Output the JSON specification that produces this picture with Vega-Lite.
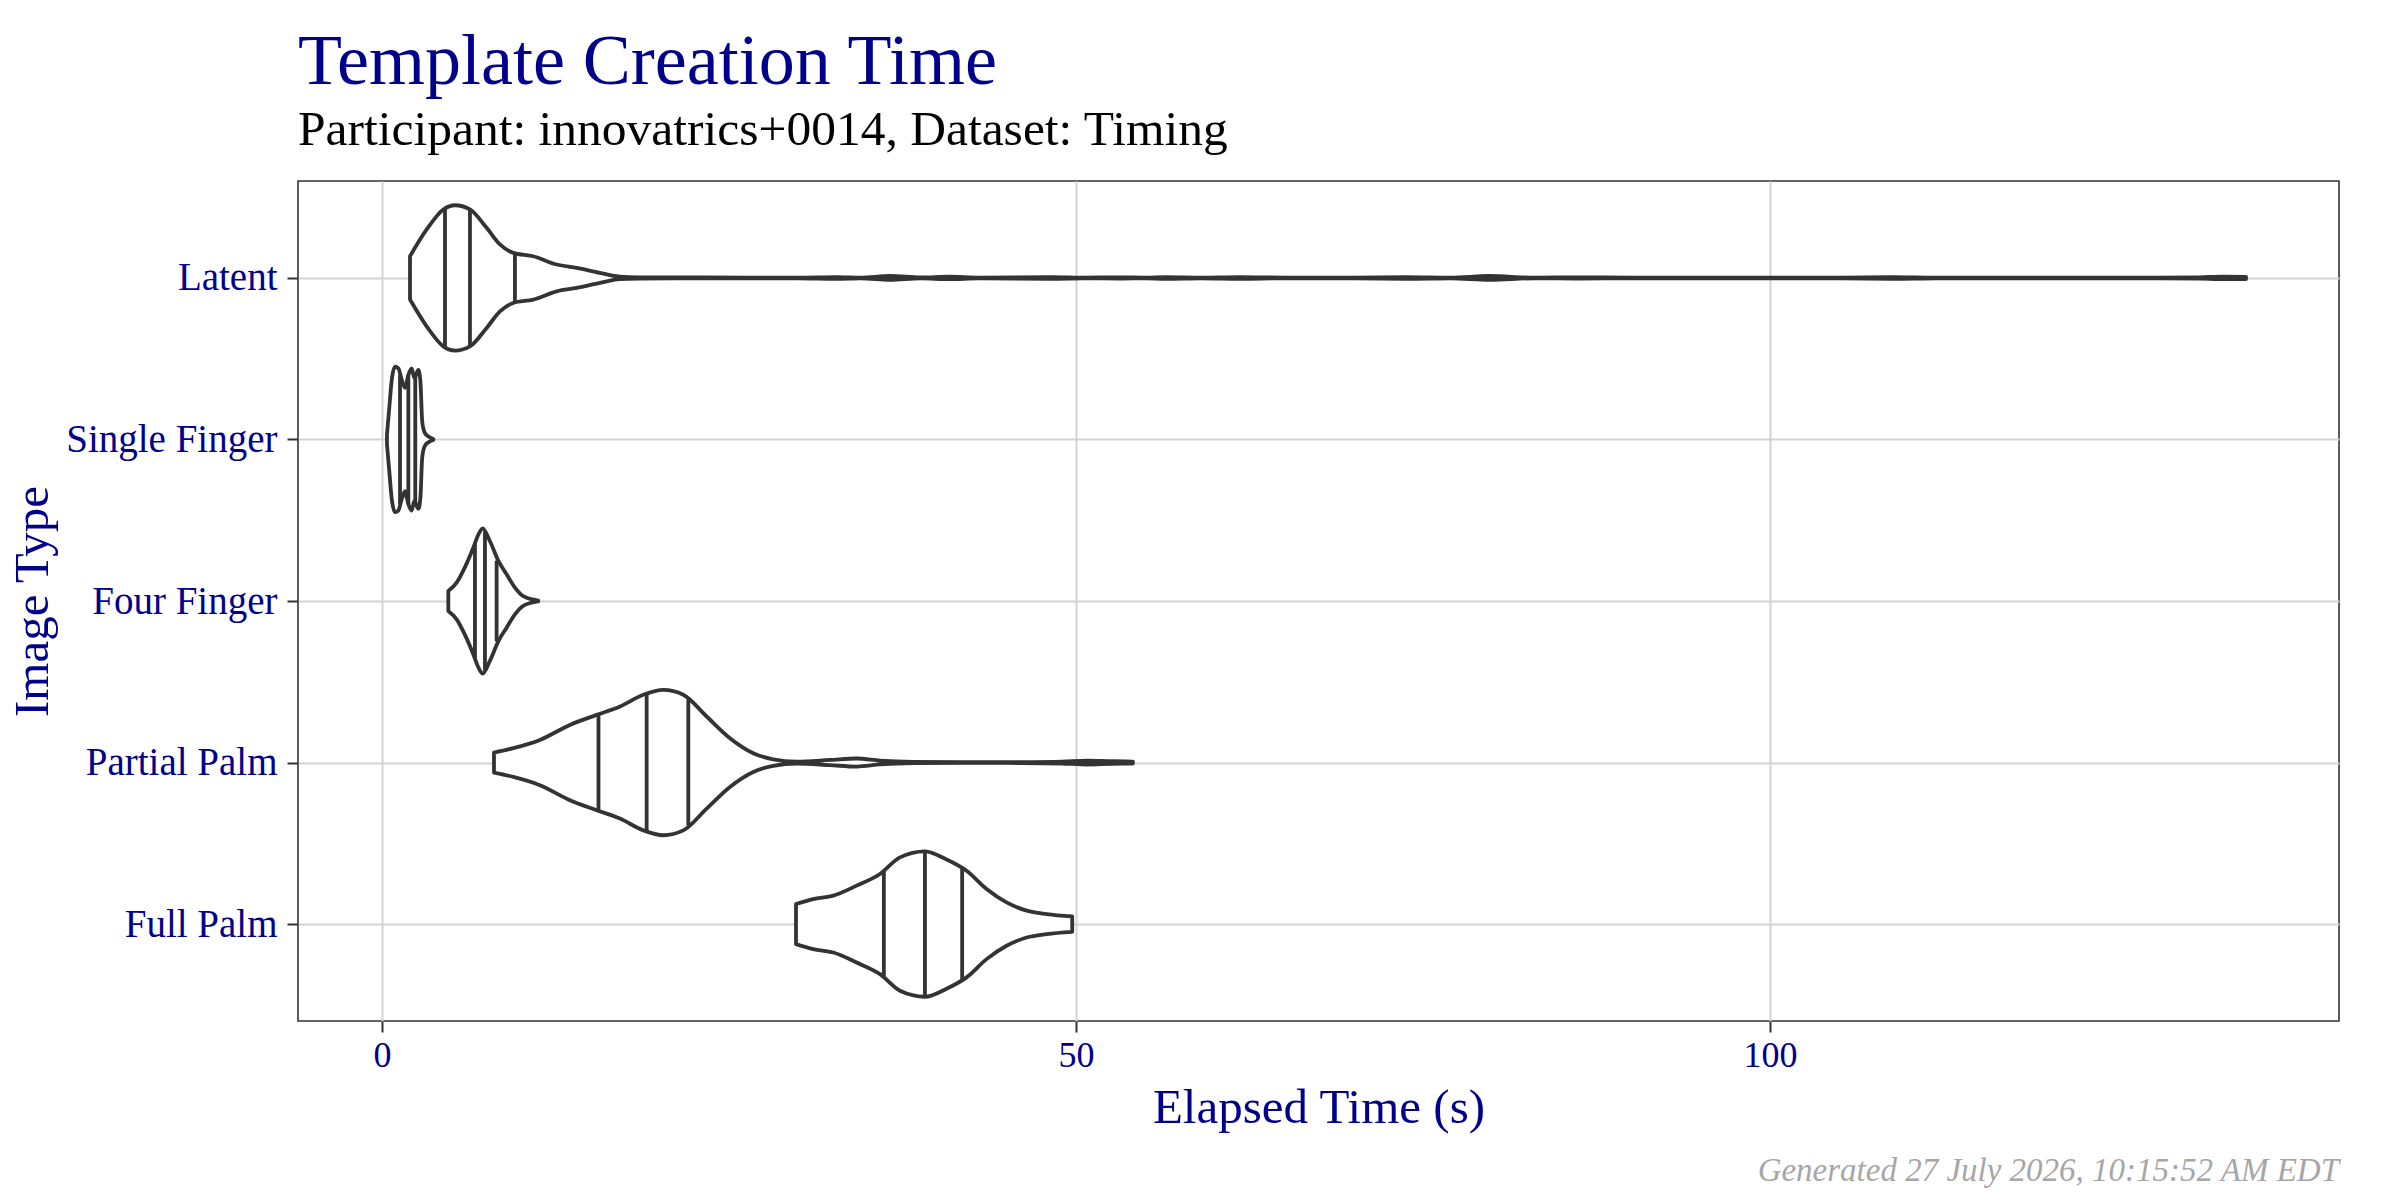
{
  "$schema": "https://vega.github.io/schema/vega-lite/v6.json",
  "background": "white",
  "padding": {"left": 7, "top": 24, "right": 61, "bottom": 10},
  "title": {
    "text": "Generated 27 July 2026, 10:15:52 AM EDT",
    "orient": "bottom",
    "anchor": "end",
    "frame": "group",
    "font": "Liberation Serif",
    "fontStyle": "italic",
    "fontWeight": "normal",
    "fontSize": 33,
    "color": "#A6A6A6",
    "offset": 22
  },
  "config": {
    "font": "Liberation Serif",
    "view": {"stroke": "#333333", "strokeWidth": 1.6},
    "axis": {
      "labelFont": "Liberation Serif",
      "titleFont": "Liberation Serif",
      "labelColor": "#00008B",
      "titleColor": "#00008B",
      "titleFontWeight": "normal",
      "labelFontSize": 36,
      "titleFontSize": 49,
      "labelLimit": 0,
      "domain": false,
      "tickColor": "#333333",
      "tickWidth": 2,
      "tickSize": 11,
      "gridColor": "#D3D3D3",
      "gridWidth": 2
    }
  },
  "datasets": {
    "outline": [
      {"type": "Latent", "t": 2.02, "w": 0.134},
      {"type": "Latent", "t": 3.22, "w": 0.30},
      {"type": "Latent", "t": 4.42, "w": 0.424},
      {"type": "Latent", "t": 5.26, "w": 0.45},
      {"type": "Latent", "t": 6.34, "w": 0.424},
      {"type": "Latent", "t": 7.54, "w": 0.31},
      {"type": "Latent", "t": 8.50, "w": 0.207},
      {"type": "Latent", "t": 9.46, "w": 0.155},
      {"type": "Latent", "t": 10.9, "w": 0.134},
      {"type": "Latent", "t": 12.59, "w": 0.083},
      {"type": "Latent", "t": 14.03, "w": 0.062},
      {"type": "Latent", "t": 15.7, "w": 0.031},
      {"type": "Latent", "t": 17.1, "w": 0.008},
      {"type": "Latent", "t": 18.5, "w": 0.004},
      {"type": "Latent", "t": 22, "w": 0.003},
      {"type": "Latent", "t": 26, "w": 0.002},
      {"type": "Latent", "t": 30, "w": 0.002},
      {"type": "Latent", "t": 32.8, "w": 0.005},
      {"type": "Latent", "t": 34.5, "w": 0.002},
      {"type": "Latent", "t": 36.6, "w": 0.012},
      {"type": "Latent", "t": 38.8, "w": 0.003},
      {"type": "Latent", "t": 40.9, "w": 0.008},
      {"type": "Latent", "t": 43, "w": 0.002},
      {"type": "Latent", "t": 48.3, "w": 0.005},
      {"type": "Latent", "t": 50.5, "w": 0.002},
      {"type": "Latent", "t": 53.2, "w": 0.004},
      {"type": "Latent", "t": 55, "w": 0.002},
      {"type": "Latent", "t": 56.5, "w": 0.005},
      {"type": "Latent", "t": 59, "w": 0.002},
      {"type": "Latent", "t": 61.8, "w": 0.005},
      {"type": "Latent", "t": 65, "w": 0.002},
      {"type": "Latent", "t": 70, "w": 0.002},
      {"type": "Latent", "t": 73.8, "w": 0.005},
      {"type": "Latent", "t": 77, "w": 0.002},
      {"type": "Latent", "t": 79.8, "w": 0.012},
      {"type": "Latent", "t": 83, "w": 0.002},
      {"type": "Latent", "t": 86.3, "w": 0.004},
      {"type": "Latent", "t": 90, "w": 0.002},
      {"type": "Latent", "t": 100, "w": 0.002},
      {"type": "Latent", "t": 105, "w": 0.002},
      {"type": "Latent", "t": 108.9, "w": 0.005},
      {"type": "Latent", "t": 112, "w": 0.002},
      {"type": "Latent", "t": 120, "w": 0.002},
      {"type": "Latent", "t": 128, "w": 0.002},
      {"type": "Latent", "t": 131, "w": 0.004},
      {"type": "Latent", "t": 132.6, "w": 0.008},
      {"type": "Latent", "t": 134.3, "w": 0.007},
      {"type": "Single Finger", "t": 0.36, "w": 0.03},
      {"type": "Single Finger", "t": 0.53, "w": 0.2},
      {"type": "Single Finger", "t": 0.72, "w": 0.38},
      {"type": "Single Finger", "t": 0.94, "w": 0.45},
      {"type": "Single Finger", "t": 1.18, "w": 0.44},
      {"type": "Single Finger", "t": 1.42, "w": 0.37},
      {"type": "Single Finger", "t": 1.66, "w": 0.32},
      {"type": "Single Finger", "t": 1.90, "w": 0.40},
      {"type": "Single Finger", "t": 2.14, "w": 0.44},
      {"type": "Single Finger", "t": 2.33, "w": 0.38},
      {"type": "Single Finger", "t": 2.62, "w": 0.43},
      {"type": "Single Finger", "t": 2.77, "w": 0.36},
      {"type": "Single Finger", "t": 2.90, "w": 0.11},
      {"type": "Single Finger", "t": 3.09, "w": 0.04},
      {"type": "Single Finger", "t": 3.4, "w": 0.015},
      {"type": "Single Finger", "t": 3.7, "w": 0.003},
      {"type": "Four Finger", "t": 4.78, "w": 0.062},
      {"type": "Four Finger", "t": 5.38, "w": 0.114},
      {"type": "Four Finger", "t": 5.98, "w": 0.21},
      {"type": "Four Finger", "t": 6.58, "w": 0.33},
      {"type": "Four Finger", "t": 6.94, "w": 0.41},
      {"type": "Four Finger", "t": 7.25, "w": 0.45},
      {"type": "Four Finger", "t": 7.78, "w": 0.37},
      {"type": "Four Finger", "t": 8.38, "w": 0.25},
      {"type": "Four Finger", "t": 8.98, "w": 0.165},
      {"type": "Four Finger", "t": 9.58, "w": 0.083},
      {"type": "Four Finger", "t": 10.18, "w": 0.03},
      {"type": "Four Finger", "t": 11.26, "w": 0.003},
      {"type": "Partial Palm", "t": 8.07, "w": 0.062},
      {"type": "Partial Palm", "t": 9.46, "w": 0.089},
      {"type": "Partial Palm", "t": 11.38, "w": 0.14},
      {"type": "Partial Palm", "t": 13.54, "w": 0.233},
      {"type": "Partial Palm", "t": 15.47, "w": 0.295},
      {"type": "Partial Palm", "t": 17.15, "w": 0.347},
      {"type": "Partial Palm", "t": 18.83, "w": 0.42},
      {"type": "Partial Palm", "t": 20.27, "w": 0.45},
      {"type": "Partial Palm", "t": 21.71, "w": 0.42},
      {"type": "Partial Palm", "t": 23.39, "w": 0.285},
      {"type": "Partial Palm", "t": 25.07, "w": 0.151},
      {"type": "Partial Palm", "t": 26.75, "w": 0.058},
      {"type": "Partial Palm", "t": 28.19, "w": 0.02},
      {"type": "Partial Palm", "t": 29.88, "w": 0.006},
      {"type": "Partial Palm", "t": 32.28, "w": 0.016},
      {"type": "Partial Palm", "t": 34.2, "w": 0.025},
      {"type": "Partial Palm", "t": 35.88, "w": 0.012},
      {"type": "Partial Palm", "t": 38.28, "w": 0.004},
      {"type": "Partial Palm", "t": 42, "w": 0.002},
      {"type": "Partial Palm", "t": 46, "w": 0.003},
      {"type": "Partial Palm", "t": 49, "w": 0.006},
      {"type": "Partial Palm", "t": 50.8, "w": 0.012},
      {"type": "Partial Palm", "t": 52.5, "w": 0.008},
      {"type": "Partial Palm", "t": 54.1, "w": 0.006},
      {"type": "Full Palm", "t": 29.83, "w": 0.124},
      {"type": "Full Palm", "t": 31.07, "w": 0.155},
      {"type": "Full Palm", "t": 32.52, "w": 0.176},
      {"type": "Full Palm", "t": 34.2, "w": 0.238},
      {"type": "Full Palm", "t": 35.88, "w": 0.31},
      {"type": "Full Palm", "t": 37.32, "w": 0.413},
      {"type": "Full Palm", "t": 39.12, "w": 0.45},
      {"type": "Full Palm", "t": 40.68, "w": 0.40},
      {"type": "Full Palm", "t": 42.12, "w": 0.33},
      {"type": "Full Palm", "t": 43.56, "w": 0.217},
      {"type": "Full Palm", "t": 45.0, "w": 0.134},
      {"type": "Full Palm", "t": 46.45, "w": 0.083},
      {"type": "Full Palm", "t": 47.89, "w": 0.062},
      {"type": "Full Palm", "t": 49.73, "w": 0.048}
    ],
    "quartiles": [
      {"type": "Latent", "q": 4.54, "w": 0.426},
      {"type": "Latent", "q": 6.34, "w": 0.42},
      {"type": "Latent", "q": 9.58, "w": 0.15},
      {"type": "Single Finger", "q": 1.3, "w": 0.40},
      {"type": "Single Finger", "q": 1.9, "w": 0.40},
      {"type": "Single Finger", "q": 2.4, "w": 0.40},
      {"type": "Four Finger", "q": 6.70, "w": 0.355},
      {"type": "Four Finger", "q": 7.42, "w": 0.43},
      {"type": "Four Finger", "q": 8.26, "w": 0.25},
      {"type": "Partial Palm", "q": 15.6, "w": 0.297},
      {"type": "Partial Palm", "q": 19.07, "w": 0.425},
      {"type": "Partial Palm", "q": 22.07, "w": 0.39},
      {"type": "Full Palm", "q": 36.16, "w": 0.325},
      {"type": "Full Palm", "q": 39.12, "w": 0.45},
      {"type": "Full Palm", "q": 41.8, "w": 0.345}
    ]
  },
  "vconcat": [
    {
      "width": 2041,
      "height": 840,
      "title": {
        "text": "Template Creation Time",
        "subtitle": "Participant: innovatrics+0014, Dataset: Timing",
        "anchor": "start",
        "frame": "group",
        "font": "Liberation Serif",
        "fontSize": 72,
        "fontWeight": "normal",
        "color": "#00008B",
        "subtitleFont": "Liberation Serif",
        "subtitleFontSize": 49.5,
        "subtitleColor": "#000000",
        "subtitlePadding": 7,
        "offset": 26
      },
      "resolve": {"axis": {"x": "independent"}},
      "layer": [
        {
          "data": {"name": "outline"},
          "transform": [
            {"calculate": "indexof(['Full Palm', 'Partial Palm', 'Four Finger', 'Single Finger', 'Latent'], datum.type) + 1", "as": "pos"},
            {"calculate": "datum.pos + datum.w", "as": "hi"},
            {"calculate": "datum.pos - datum.w", "as": "lo"}
          ],
          "mark": {"type": "area", "orient": "vertical", "interpolate": "monotone", "fill": "white", "stroke": "#333333", "strokeWidth": 3.8, "strokeJoin": "round"},
          "encoding": {
            "x": {
              "field": "t",
              "type": "quantitative",
              "scale": {"domain": [-6.05, 141], "nice": false, "zero": false},
              "axis": {"values": [0, 50, 100], "format": "d", "title": "Elapsed Time (s)", "labelPadding": 6, "titlePadding": 10, "orient": "bottom"}
            },
            "y": {
              "field": "hi",
              "type": "quantitative",
              "scale": {"domain": [0.4, 5.6], "nice": false, "zero": false},
              "axis": {
                "values": [1, 2, 3, 4, 5],
                "labelExpr": "['', 'Full Palm', 'Partial Palm', 'Four Finger', 'Single Finger', 'Latent'][datum.value]",
                "labelFontSize": 39,
                "title": "Image Type",
                "labelPadding": 10,
                "titlePadding": 41
              }
            },
            "y2": {"field": "lo"},
            "detail": {"field": "type"}
          }
        },
        {
          "data": {"name": "quartiles"},
          "transform": [
            {"calculate": "indexof(['Full Palm', 'Partial Palm', 'Four Finger', 'Single Finger', 'Latent'], datum.type) + 1", "as": "pos"},
            {"calculate": "datum.pos + datum.w", "as": "hi"},
            {"calculate": "datum.pos - datum.w", "as": "lo"}
          ],
          "mark": {"type": "rule", "stroke": "#333333", "strokeWidth": 3.8},
          "encoding": {
            "x": {
              "field": "q",
              "type": "quantitative",
              "axis": {"values": [25, 75, 125], "orient": "top", "labels": false, "ticks": false, "title": null, "gridColor": "#E4E4E4", "gridWidth": 1.6}
            },
            "y": {"field": "lo", "type": "quantitative"},
            "y2": {"field": "hi"}
          }
        }
      ]
    }
  ]
}
